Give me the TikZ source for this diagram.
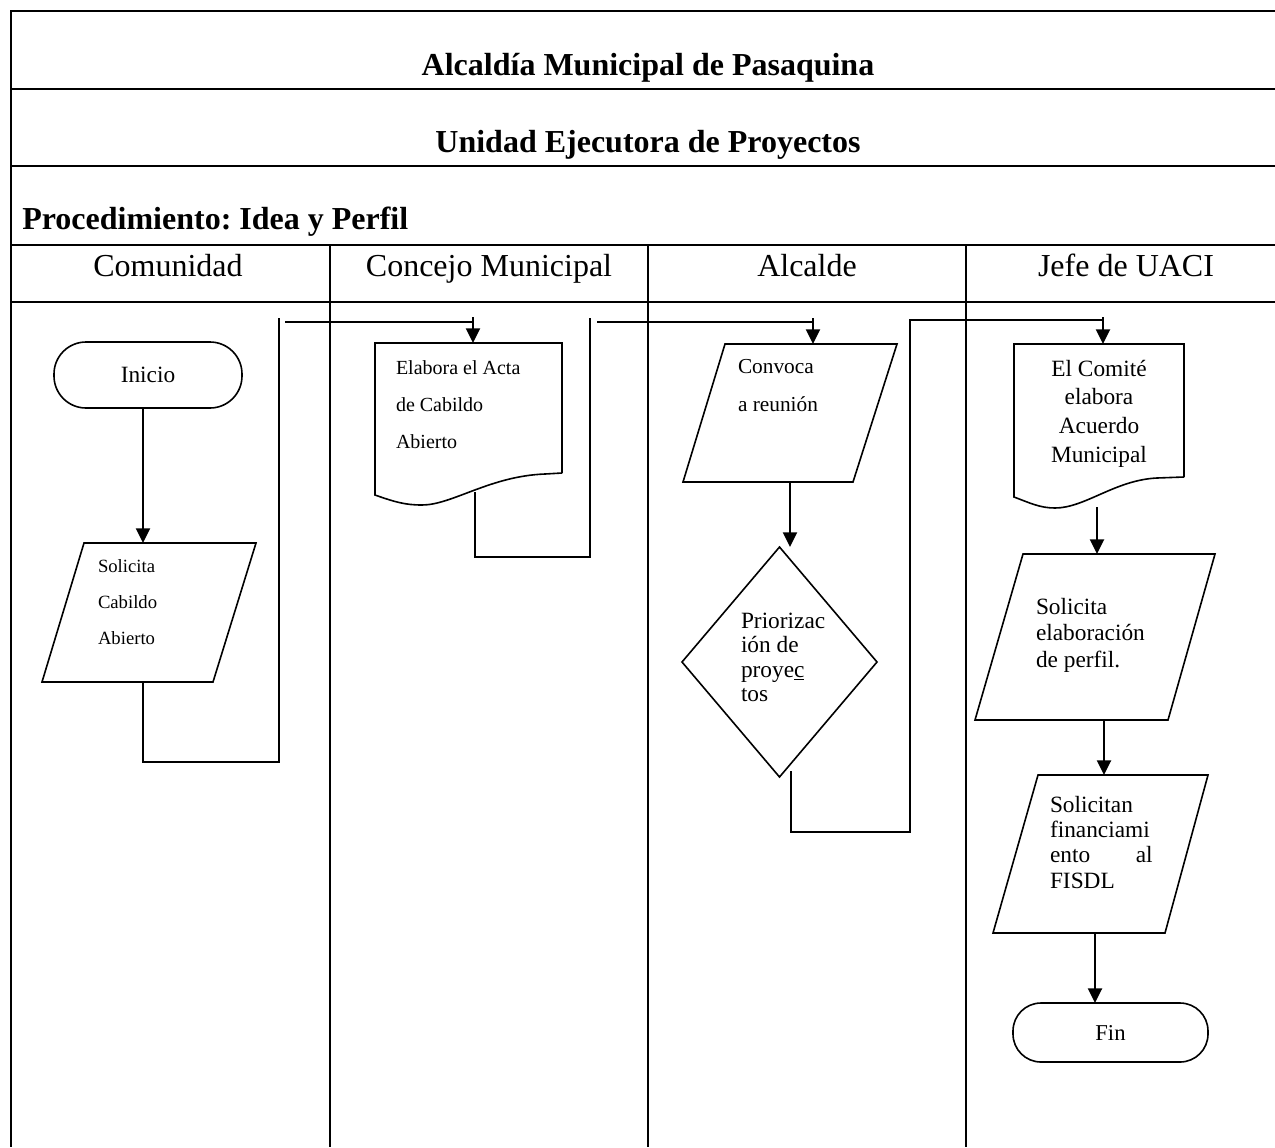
\documentclass[tikz,border=0pt]{standalone}
\usepackage{fontspec}
\setmainfont{Liberation Serif}
\usetikzlibrary{arrows.meta,fit,calc}
\frenchspacing

\begin{document}
\begin{tikzpicture}[x=0.75pt,y=-0.75pt,
  ruleline/.style={line width=2pt},
  borderline/.style={line width=1.4pt},
  laneline/.style={line width=1pt},
  outline/.style={line width=1.2pt, line join=miter},
  linkline/.style={line width=1.4pt},
  flowarrow/.style={line width=1.7pt,-{Triangle[length=11pt,width=10.5pt]}},
  zone/.style={inner sep=0pt, outer sep=0pt},
  btext/.style={inner sep=0pt, outer sep=0pt, anchor=north west, align=left},
  titlefont/.style={font=\fontsize{24}{28}\selectfont\bfseries},
  headfont/.style={font=\fontsize{24}{28}\selectfont},
]
\useasboundingbox (0,0) rectangle (1275,1147);

% table frame
\foreach \y in {11,89,166,245,302}
  \draw[ruleline] (11,\y) -- (1275,\y);
\draw[borderline] (11,10) -- (11,1147);
\foreach \x in {330,648,966}
  \draw[laneline] (\x,245) -- (\x,1147);

% titles
\node[titlefont, anchor=base, inner sep=0pt] (title) at (648,75) {Alcaldía Municipal de Pasaquina};
\node[titlefont, anchor=base, inner sep=0pt] (unit) at (648,152) {Unidad Ejecutora de Proyectos};
\node[titlefont, anchor=base west, inner sep=0pt] (proc) at (22,229) {Procedimiento: Idea y Perfil};

% lane headers
\node[headfont, anchor=base, inner sep=0pt] (h1) at (168,276) {Comunidad};
\node[headfont, anchor=base, inner sep=0pt] (h2) at (489,276) {Concejo Municipal};
\node[headfont, anchor=base, inner sep=0pt] (h3) at (807,276) {Alcalde};
\node[headfont, anchor=base, inner sep=0pt] (h4) at (1126,276) {Jefe de UACI};

% ---------- Comunidad ----------
\node[zone, fit={(54,342)(242,408)}] (inicio) {};
\draw[outline, rounded corners=24pt] (inicio.north west) rectangle (inicio.south east);
\node[font=\fontsize{17.5}{21}\selectfont, inner sep=0pt] (inicioT) at (inicio.center) {Inicio};

\node[zone, fit={(42,543)(256,682)}] (solcab) {};
\draw[outline] ($(solcab.north west)+(42,0)$) -- (solcab.north east)
  -- ($(solcab.south east)+(-43,0)$) -- (solcab.south west) -- cycle;
\node[btext, font=\fontsize{14}{27}\selectfont] (solcabT) at (98,560)
  {Solicita\\Cabildo\\Abierto};

% ---------- Concejo Municipal ----------
\node[zone, fit={(375,343)(562,473)}] (acta) {};
\draw[outline] (acta.south east) -- (acta.north east) -- (acta.north west)
  -- (375,495) .. controls (395,502) and (405,505) .. (422,505)
  .. controls (452,505) and (490,476) .. (545,474) -- (acta.south east);
\node[btext, font=\fontsize{15}{27.75}\selectfont] (actaT) at (396,361)
  {Elabora el Acta\\de Cabildo\\Abierto};

% ---------- Alcalde ----------
\node[zone, fit={(683,344)(897,482)}] (convoca) {};
\draw[outline] ($(convoca.north west)+(42,0)$) -- (convoca.north east)
  -- ($(convoca.south east)+(-44,0)$) -- (convoca.south west) -- cycle;
\node[btext, font=\fontsize{16}{28.5}\selectfont] (convocaT) at (738,359)
  {Convoca\\a reunión};

\node[zone, fit={(682,547)(877,777)}] (prior) {};
\draw[outline] (prior.north) -- (prior.east) -- (prior.south) -- (prior.west) -- cycle;
\node[btext, font=\fontsize{17.5}{18.3}\selectfont] (priorT) at (741,613)
  {Priorizac\\ión de\\proye\underline{c}\\tos};

% ---------- Jefe de UACI ----------
\node[zone, fit={(1014,344)(1184,477)}] (comite) {};
\draw[outline] (comite.south east) -- (comite.north east) -- (comite.north west)
  -- (1014,497) .. controls (1030,503) and (1040,508) .. (1055,508)
  .. controls (1085,508) and (1115,480) .. (1157,478) -- (comite.south east);
\node[btext, anchor=north, align=center, font=\fontsize{17.5}{21.5}\selectfont] (comiteT) at (1099,360)
  {El Comité\\elabora\\Acuerdo\\Municipal};

\node[zone, fit={(975,554)(1215,720)}] (solper) {};
\draw[outline] ($(solper.north west)+(48,0)$) -- (solper.north east)
  -- ($(solper.south east)+(-47,0)$) -- (solper.south west) -- cycle;
\node[btext, font=\fontsize{17.5}{20}\selectfont] (solperT) at (1036,598)
  {Solicita\\elaboración\\de perfil.};

\node[zone, fit={(993,775)(1208,933)}] (solfis) {};
\draw[outline] ($(solfis.north west)+(45,0)$) -- (solfis.north east)
  -- ($(solfis.south east)+(-43,0)$) -- (solfis.south west) -- cycle;
\node[btext, font=\fontsize{17.5}{19}\selectfont] (solfisT) at (1050,796)
  {Solicitan\\financiami\\\makebox[77pt][s]{ento al}\\FISDL};

\node[zone, fit={(1013,1003)(1208,1062)}] (fin) {};
\draw[outline, rounded corners=21pt] (fin.north west) rectangle (fin.south east);
\node[font=\fontsize{17}{20}\selectfont, inner sep=0pt] (finT) at (fin.center) {Fin};

% ---------- connectors ----------
% within Comunidad
\draw[flowarrow] ($(inicio.south)+(-5,0)$) -- ($(solcab.north)+(-6,0)$);
% Comunidad -> Concejo Municipal
\coordinate (k1a) at ($(solcab.south)+(-6,0)$);
\coordinate (k1b) at ($(k1a)+(0,80)$);
\coordinate (k1c) at (279,762);
\coordinate (k1d) at (279,318);
\draw[linkline] (k1a) -- (k1b) -- (k1c) -- (k1d);
\coordinate (k1e) at (285,322);
\coordinate (k1f) at ($(acta.north)+(4.5,0)$);
\draw[linkline] (k1e) -- (k1e -| k1f);
\draw[flowarrow] ($(k1f)+(0,-26)$) -- (k1f);

% Concejo Municipal -> Alcalde
\coordinate (k2a) at (475,492);
\coordinate (k2b) at (475,557);
\coordinate (k2c) at (590,557);
\coordinate (k2d) at (590,318);
\draw[linkline] (k2a) -- (k2b) -- (k2c) -- (k2d);
\coordinate (k2e) at (597,322);
\coordinate (k2f) at ($(convoca.north)+(23,0)$);
\draw[linkline] (k2e) -- (k2e -| k2f);
\draw[flowarrow] ($(k2f)+(0,-26)$) -- (k2f);

% within Alcalde
\draw[flowarrow] (convoca.south) -- (convoca.south |- prior.north);

% Alcalde -> Jefe de UACI
\coordinate (k3a) at (791,771);
\coordinate (k3b) at (791,832);
\coordinate (k3c) at (910,832);
\coordinate (k3d) at (910,320);
\coordinate (k3f) at ($(comite.north)+(4,0)$);
\draw[linkline] (k3a) -- (k3b) -- (k3c) -- (k3d) -- (k3d -| k3f);
\draw[flowarrow] ($(k3f)+(0,-27)$) -- (k3f);

% within Jefe de UACI
\draw[flowarrow] (1097,507) -- ($(solper.north)+(2,0)$);
\draw[flowarrow] ($(solper.south)+(9,0)$) -- ($(solfis.north)+(3.5,0)$);
\draw[flowarrow] ($(solfis.south)+(-5.5,0)$) -- ($(fin.north)+(-15.5,0)$);
\end{tikzpicture}
\end{document}
